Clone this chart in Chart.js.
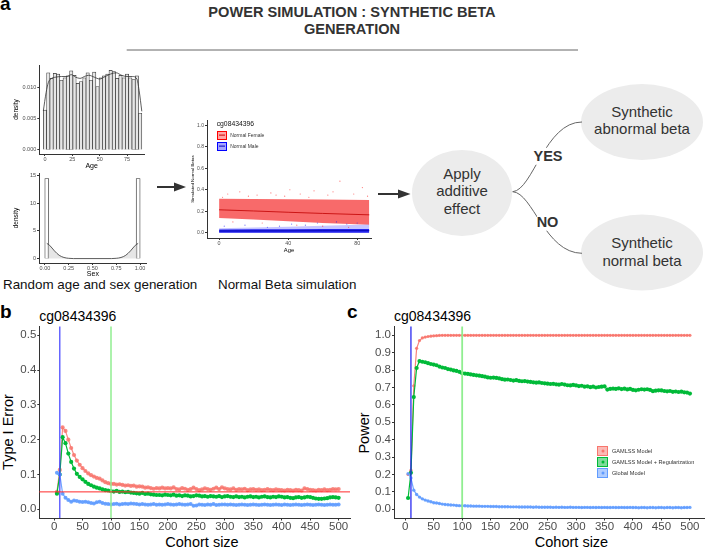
<!DOCTYPE html>
<html><head><meta charset="utf-8">
<script src="https://cdn.jsdelivr.net/npm/chart.js@4.4.1/dist/chart.umd.min.js"></script>
<style>
html,body{margin:0;padding:0;background:#fff;}
body{width:708px;height:548px;position:relative;overflow:hidden;font-family:"Liberation Sans",Arial,Helvetica,sans-serif;}
canvas{position:absolute;}
.t{position:absolute;white-space:nowrap;line-height:1;}
.c{transform:translate(-50%,-50%);}
.r{transform:translate(-50%,-50%) rotate(-90deg);}
.pl{position:absolute;font-weight:bold;font-size:19px;line-height:1;color:#000;}
.ell{position:absolute;text-align:center;font-size:15px;color:#333;}
.lg{position:absolute;display:flex;align-items:center;white-space:nowrap;color:#333;}
.sw{box-sizing:border-box;position:relative;display:inline-block;flex:none;}
.dot{position:absolute;left:50%;top:50%;border-radius:50%;transform:translate(-50%,-50%);}
.yn{position:absolute;font-weight:bold;font-size:14.5px;color:#333;background:#fff;line-height:1;padding:1px 0;transform:translate(-50%,-50%);}
</style></head><body>
<svg width="708" height="548" style="position:absolute;left:0;top:0">
  <line x1="126.7" y1="50" x2="578" y2="50" stroke="#666" stroke-width="1"/>
  <line x1="157" y1="187" x2="176" y2="187" stroke="#333" stroke-width="2"/>
  <polygon points="174,182.5 186,187 174,191.5" fill="#333"/>
  <line x1="378" y1="194" x2="400" y2="194" stroke="#333" stroke-width="2"/>
  <polygon points="398,189.5 410.5,194 398,198.5" fill="#333"/>
  <ellipse cx="462" cy="193" rx="50" ry="43" fill="#ececec"/>
  <ellipse cx="642" cy="122" rx="61" ry="38" fill="#ececec"/>
  <ellipse cx="642" cy="252.5" rx="61" ry="38" fill="#ececec"/>
  <path d="M512.7,191.7 C533,190 545,122 582,122" stroke="#666" stroke-width="1" fill="none"/>
  <path d="M512.7,191.7 C533,193 545,253 582,253.3" stroke="#666" stroke-width="1" fill="none"/>
</svg>

<div class="pl" style="left:0px;top:-6px">a</div>
<div class="pl" style="left:0px;top:302px">b</div>
<div class="pl" style="left:347px;top:302px">c</div>

<div class="t c" style="left:352px;top:12px;font-weight:bold;font-size:14.6px;color:#333">POWER SIMULATION : SYNTHETIC BETA</div>
<div class="t c" style="left:352px;top:28.5px;font-weight:bold;font-size:14.6px;color:#333">GENERATION</div>

<div class="t" style="left:3px;top:278px;font-size:13.4px;color:#111">Random age and sex generation</div>
<div class="t" style="left:218px;top:278px;font-size:13.4px;color:#111">Normal Beta simulation</div>

<div class="ell" style="left:412px;top:164.5px;width:100px;line-height:17.5px">Apply<br>additive<br>effect</div>
<div class="ell" style="left:581px;top:102.9px;width:122px;line-height:17.6px">Synthetic<br>abnormal beta</div>
<div class="ell" style="left:581px;top:233.7px;width:122px;line-height:18px">Synthetic<br>normal beta</div>
<div class="yn" style="left:548px;top:156px">YES</div>
<div class="yn" style="left:547.5px;top:222px">NO</div>

<div class="t" style="left:39.3px;top:309px;font-size:14px;color:#000">cg08434396</div>
<div class="t" style="left:394px;top:309px;font-size:14px;color:#000">cg08434396</div>
<div class="t c" style="left:202px;top:542px;font-size:14.5px;color:#000">Cohort size</div>
<div class="t c" style="left:571.5px;top:542px;font-size:14.5px;color:#000">Cohort size</div>
<div class="t r" style="left:7.5px;top:431.5px;font-size:14.5px;color:#000">Type I Error</div>
<div class="t r" style="left:364px;top:432.5px;font-size:14.5px;color:#000">Power</div>

<div id="host"></div>

<!-- legend panel c -->
<div class="lg" style="left:597px;top:445.5px;height:10px;font-size:5.6px"><span class="sw" style="width:11px;height:10px;background:rgba(248,118,109,0.5);border:0.8px solid #F8766D"><i class="dot" style="width:3px;height:3px;background:#F8766D"></i></span><span style="margin-left:4px">GAMLSS Model</span></div>
<div class="lg" style="left:597px;top:456.5px;height:10px;font-size:5.6px"><span class="sw" style="width:11px;height:10px;background:rgba(0,186,56,0.5);border:0.8px solid #00BA38"><i class="dot" style="width:3px;height:3px;background:#00BA38"></i></span><span style="margin-left:4px">GAMLSS Model + Regularization</span></div>
<div class="lg" style="left:597px;top:468px;height:10px;font-size:5.6px"><span class="sw" style="width:11px;height:10px;background:rgba(97,156,255,0.5);border:0.8px solid #619CFF"><i class="dot" style="width:3px;height:3px;background:#619CFF"></i></span><span style="margin-left:4px">Global Model</span></div>

<!-- legend scatter -->
<div class="t" style="left:216.7px;top:120.8px;font-size:6.8px;color:#111">cg08434396</div>
<div class="lg" style="left:217.3px;top:130.7px;height:9.3px;font-size:5px"><span class="sw" style="width:9.4px;height:9.3px;background:rgba(255,0,0,0.35);border:0.8px solid #ff0000"><i class="dot" style="width:6px;height:0.8px;border-radius:0;background:#d00000"></i></span><span style="margin-left:3.5px">Normal Female</span></div>
<div class="lg" style="left:217.3px;top:141.7px;height:9.3px;font-size:5px"><span class="sw" style="width:9.4px;height:9.3px;background:rgba(0,0,255,0.35);border:0.8px solid #0000ff"><i class="dot" style="width:6px;height:0.8px;border-radius:0;background:#0000c0"></i></span><span style="margin-left:3.5px">Normal Male</span></div>

<script>
// ---------- DATA ----------
const cohort = [5,10,15,20,25,30,35,40,45,50,55,60,65,70,75,80,85,90,95,100,
  105,110,115,120,125,130,135,140,145,150,155,160,165,170,175,180,185,190,195,200,
  205,210,215,220,225,230,235,240,245,250,255,260,265,270,275,280,285,290,295,300,
  305,310,315,320,325,330,335,340,345,350,355,360,365,370,375,380,385,390,395,400,
  405,410,415,420,425,430,435,440,445,450,455,460,465,470,475,480,485,490,495,500];

const typeIGamlss = [.050,.113,.235,.225,.200,.176,.156,.140,.128,.118,
  .110,.103,.098,.094,.090,.088,.083,.078,.075,.073,
  .073,.071,.072,.070,.068,.069,.067,.068,.065,.066,
  .065,.062,.063,.061,.059,.061,.060,.062,.060,.061,
  .060,.063,.058,.057,.061,.059,.056,.058,.062,.058,
  .055,.057,.060,.058,.056,.059,.062,.058,.063,.060,
  .058,.057,.060,.056,.058,.057,.059,.055,.057,.058,
  .056,.057,.055,.056,.058,.056,.055,.057,.056,.055,
  .054,.056,.055,.054,.056,.055,.054,.060,.058,.056,
  .055,.054,.056,.055,.057,.055,.056,.058,.057,.058];

const typeIGamlssReg = [.045,.100,.207,.190,.160,.136,.117,.102,.093,.086,
  .079,.073,.069,.065,.062,.060,.057,.055,.054,.052,
  .051,.053,.050,.051,.049,.050,.048,.047,.046,.045,
  .047,.044,.045,.043,.042,.041,.041,.040,.042,.041,
  .040,.042,.039,.040,.038,.040,.039,.037,.038,.040,
  .039,.037,.038,.036,.038,.037,.036,.038,.035,.037,
  .038,.036,.035,.037,.035,.036,.034,.036,.037,.035,
  .036,.034,.036,.037,.035,.034,.036,.035,.037,.036,
  .034,.035,.033,.032,.034,.035,.033,.034,.036,.035,
  .033,.031,.030,.030,.031,.032,.034,.035,.034,.033];

const typeIGlobal = [.105,.100,.045,.033,.027,.022,.025,.024,.022,.021,
  .022,.020,.018,.017,.020,.022,.018,.016,.015,.014,
  .015,.016,.014,.015,.016,.015,.017,.016,.015,.014,
  .015,.014,.013,.014,.015,.013,.014,.013,.014,.015,
  .014,.013,.014,.015,.014,.013,.014,.015,.010,.011,
  .014,.013,.012,.014,.013,.015,.012,.013,.014,.014,
  .013,.014,.013,.012,.013,.014,.013,.012,.013,.014,
  .013,.012,.013,.014,.013,.012,.013,.014,.013,.012,
  .014,.013,.012,.013,.014,.013,.012,.013,.014,.013,
  .012,.013,.014,.013,.012,.013,.014,.013,.013,.014];

const powerGamlss = [.200,.225,.710,.925,.970,.985,.990,.993,.995,.997,
  .998,.999,1,1,1,1,1,1,1,1,
  1,1,1,1,1,1,1,1,1,1, 1,1,1,1,1,1,1,1,1,1,
  1,1,1,1,1,1,1,1,1,1, 1,1,1,1,1,1,1,1,1,1,
  1,1,1,1,1,1,1,1,1,1, 1,1,1,1,1,1,1,1,1,1,
  1,1,1,1,1,1,1,1,1,1, 1,1,1,1,1,1,1,1,1,1];

const powerGamlssReg = [.065,.210,.645,.812,.852,.848,.845,.840,.835,.832,
  .828,.820,.815,.812,.806,.803,.798,.795,.790,.782,
  .780,.778,.775,.772,.770,.768,.765,.762,.758,.756,
  .757,.755,.752,.748,.745,.746,.743,.740,.742,.738,
  .736,.737,.734,.732,.730,.728,.729,.726,.724,.722,
  .720,.721,.718,.716,.720,.717,.713,.712,.715,.712,
  .708,.710,.705,.707,.702,.705,.700,.703,.705,.707,
  .688,.692,.694,.692,.695,.691,.693,.689,.692,.686,
  .684,.687,.690,.688,.690,.686,.679,.682,.684,.683,
  .680,.678,.680,.675,.677,.674,.676,.672,.671,.665];

const powerGlobal = [.205,.180,.110,.085,.070,.060,.053,.048,.043,.038,
  .036,.033,.030,.028,.026,.025,.024,.022,.021,.020,
  .020,.019,.019,.018,.018,.018,.017,.017,.017,.016,
  .016,.016,.015,.015,.015,.015,.014,.014,.014,.013,
  .013,.013,.013,.013,.012,.013,.012,.012,.012,.012,
  .012,.011,.012,.011,.012,.011,.011,.012,.011,.011,
  .011,.010,.011,.011,.010,.011,.010,.011,.010,.011,
  .010,.010,.011,.010,.010,.011,.010,.010,.011,.010,
  .010,.009,.010,.010,.009,.010,.010,.009,.010,.010,
  .009,.010,.010,.009,.010,.010,.009,.010,.010,.011];

const cohortTicks = [0,50,100,150,200,250,300,350,400,450,500];
const typeITicks = [0,0.1,0.2,0.3,0.4,0.5];
const powerTicks = [0,0.1,0.2,0.3,0.4,0.5,0.6,0.7,0.8,0.9,1.0];
const alphaLevel = 0.05;
const smallCohortLine = 10;
const largeCohortLine = 100;

// panel a : age histogram (bin centres, density) and density curve
const ageBins = [0,3,6,9,12,15,18,21,24,27,30,33,36,39,42,45,48,51,54,57,60,63,66,69,72,75,78,81,84,87];
const ageDensity = [.0064,.0124,.0115,.0123,.0122,.0112,.0116,.0119,.0127,.0120,.0107,.0110,.0116,.0124,.0112,.0125,.0102,.0116,.0119,.0122,.0128,.0126,.0115,.0120,.0116,.0122,.0116,.0113,.0119,.0059];
const ageCurveX = [-1.5,1,3,6,10,15,20,24,28,32,36,40,45,50,55,60,65,70,75,80,84,86,88.5];
const ageCurveY = [.0063,.0092,.0108,.0115,.0117,.0118,.0118,.0121,.0117,.0115,.0118,.0120,.0117,.0114,.0118,.0122,.0124,.0120,.0118,.0118,.0114,.0096,.0062];
const ageTicks = [0,25,50,75];
const ageDensTicks = [0,0.005,0.010];
// sex histogram and density
const sexBins = [0.02,0.98];
const sexDensity = [14.5,14.5];
const sexCurveX = [0.02,0.05,0.10,0.15,0.20,0.25,0.30,0.70,0.75,0.80,0.85,0.90,0.95,0.98];
const sexCurveY = [2.75,2.4,1.4,0.6,0.2,0.05,0,0,0.05,0.2,0.6,1.4,2.4,2.75];
const sexTicks = [0,0.25,0.5,0.75,1];
const sexDensTicks = [0,5,10,15];
// simulated normal beta
const ageGrid = [0,20,40,60,87];
const femaleUpper = [.315,.313,.311,.308,.305];
const femaleLower = [.136,.122,.105,.090,.074];
const femaleMean = [.213,.202,.190,.179,.166];
const maleUpper = [.040,.048,.056,.064,.075];
const maleDense = [.030,.031,.032,.033,.034];
const maleMean = [.015,.016,.017,.018,.019];
const femaleOutAge = [5,12,22,30,38,47,55,63,70,78,83,8,25,45,60,75,17,52,66,2,33,41,86];
const femaleOutBeta = [.36,.38,.35,.37,.34,.36,.39,.35,.48,.36,.42,.10,.09,.07,.06,.05,.34,.33,.38,.33,.35,.40,.34];
const maleOutAge = [3,15,28,42,57,68,80,35,50,74];
const maleOutBeta = [.06,.07,.05,.08,.09,.10,.09,.06,.07,.08];
const betaAgeTicks = [0,40,80];
const betaTicks = [0,0.2,0.4,0.6,0.8,1.0];

// ---------- helpers ----------
const FONT = '"Liberation Sans", Arial, sans-serif';
Chart.defaults.font.family = FONT;
const pts = (xs, ys) => xs.map((x, i) => ({x, y: ys[i]}));
function mk(left, top, w, h) {
  const c = document.createElement('canvas');
  c.width = w; c.height = h;
  c.style.left = left + 'px'; c.style.top = top + 'px';
  c.style.width = w + 'px'; c.style.height = h + 'px';
  document.getElementById('host').appendChild(c);
  return c;
}
function axis(o) {
  return {
    type: 'linear', min: o.min, max: o.max, offset: false,
    afterBuildTicks: s => { s.ticks = o.ticks.map(v => ({value: v})); },
    afterFit: s => { if (s.isHorizontal()) s.height = o.size; else s.width = o.size; },
    border: {display: true, color: '#333', width: o.bw || 1},
    grid: {display: true, drawOnChartArea: false, drawTicks: true, tickLength: o.tl ?? 2, color: '#333', lineWidth: o.bw || 1, offset: false},
    ticks: {color: '#4d4d4d', font: {size: o.fs, lineHeight: 1}, padding: o.pad ?? 1, maxRotation: 0, autoSkip: false,
      callback: v => o.fmt ? o.fmt(v) : String(v)},
    title: {display: !!o.title, text: o.title || '', color: '#000', font: {size: o.ts || 7}, padding: 0}
  };
}
function baseOpts(pad, x, y) {
  return {responsive: false, animation: false, devicePixelRatio: 1, events: [],
    layout: {padding: pad},
    plugins: {legend: {display: false}, tooltip: {enabled: false}, title: {display: false}},
    scales: {x, y}};
}
const vline = (x, color, w) => ({type: 'line', data: [{x, y: -10}, {x, y: 10}], borderColor: color, borderWidth: w, pointRadius: 0});
const hline = (y, color, w) => ({type: 'line', data: [{x: -1000, y}, {x: 1000, y}], borderColor: color, borderWidth: w, pointRadius: 0});
const series = (ys, color, r, bw) => ({type: 'line', data: pts(cohort, ys), borderColor: color, backgroundColor: color,
  borderWidth: bw, pointRadius: r, pointBorderWidth: 0, tension: 0});

const RED = '#F8766D', GREEN = '#00BA38', BLUE = '#619CFF';

// ---------- panel b ----------
new Chart(mk(0, 295, 354, 253), {
  type: 'line',
  data: {datasets: [
    hline(alphaLevel, '#ff2a2a', 1),
    vline(smallCohortLine, 'rgba(60,60,255,0.9)', 1.3),
    vline(largeCohortLine, '#90EE90', 1.5),
    series(typeIGlobal, 'rgba(97,156,255,0.9)', 2, 1.2),
    series(typeIGamlssReg, GREEN, 2.1, 1.2),
    series(typeIGamlss, 'rgba(248,118,109,0.85)', 2.1, 1.2)
  ]},
  options: baseOpts({left: 0, top: 31.5, right: 1, bottom: 0},
    axis({min: -26, max: 520, ticks: cohortTicks, size: 30, fs: 11.5, tl: 2.5, pad: 1}),
    axis({min: -0.025, max: 0.525, ticks: typeITicks, size: 39.3, fs: 11.5, tl: 2, pad: 1, fmt: v => v.toFixed(1)}))
});

// ---------- panel c ----------
new Chart(mk(354, 295, 354, 253), {
  type: 'line',
  data: {datasets: [
    vline(smallCohortLine, 'rgba(30,30,240,0.95)', 1.3),
    vline(largeCohortLine, '#90EE90', 1.8),
    series(powerGlobal, 'rgba(97,156,255,0.9)', 1.7, 1.2),
    series(powerGamlssReg, GREEN, 2.1, 1.2),
    series(powerGamlss, 'rgba(248,118,109,0.9)', 1.6, 1.2)
  ]},
  options: baseOpts({left: 0, top: 31.6, right: 0, bottom: 0},
    axis({min: -19.75, max: 524.75, ticks: cohortTicks, size: 30, fs: 11.5, tl: 2.5, pad: 1}),
    axis({min: -0.05, max: 1.05, ticks: powerTicks, size: 40, fs: 11.5, tl: 2, pad: 1, fmt: v => v.toFixed(1)}))
});

// ---------- panel a : age histogram ----------
new Chart(mk(12, 60, 140, 110), {
  type: 'bar',
  data: {datasets: [
    {type: 'line', data: pts(ageCurveX, ageCurveY), borderColor: '#333', borderWidth: 0.8, pointRadius: 0, tension: 0.4, cubicInterpolationMode: 'monotone'},
    {type: 'bar', data: pts(ageBins, ageDensity), backgroundColor: '#e6e6e6', borderColor: '#333', borderWidth: 0.7, barPercentage: 1, categoryPercentage: 1}
  ]},
  options: baseOpts({left: 0, top: 5, right: 8, bottom: 0},
    axis({min: -5.2, max: 90.5, ticks: ageTicks, size: 16, fs: 5.5, tl: 2, pad: 0.5, title: 'Age', ts: 7}),
    axis({min: -0.00065, max: 0.01365, ticks: ageDensTicks, size: 27.3, fs: 5.5, tl: 2, pad: 1, fmt: v => v.toFixed(3), title: 'density', ts: 6.5}))
});

// ---------- panel a : sex histogram ----------
new Chart(mk(12, 168, 140, 110), {
  type: 'bar',
  data: {datasets: [
    {type: 'line', data: pts(sexCurveX, sexCurveY), borderColor: '#333', borderWidth: 0.8, pointRadius: 0, tension: 0.4, cubicInterpolationMode: 'monotone', fill: 'origin', backgroundColor: 'rgba(200,200,200,0.45)'},
    {type: 'bar', data: pts(sexBins, sexDensity), backgroundColor: '#ffffff', borderColor: '#333', borderWidth: 0.8, barThickness: 4}
  ]},
  options: baseOpts({left: 0, top: 5, right: 5.3, bottom: 0},
    axis({min: -0.062, max: 1.07, ticks: sexTicks, size: 15, fs: 5.5, tl: 2, pad: 0.3, fmt: v => v.toFixed(2), title: 'Sex', ts: 7}),
    axis({min: -0.8, max: 15.5, ticks: sexDensTicks, size: 27, fs: 5.5, tl: 2, pad: 1, title: 'density', ts: 6.5}))
});

// ---------- panel a : simulated normal betas ----------
new Chart(mk(190, 112, 185, 142), {
  type: 'line',
  data: {datasets: [
    {data: pts(ageGrid, femaleMean), borderColor: '#c00000', borderWidth: 0.8, pointRadius: 0},
    {data: pts(ageGrid, maleMean), borderColor: '#0000b0', borderWidth: 0.8, pointRadius: 0},
    {type: 'scatter', data: pts(femaleOutAge, femaleOutBeta), backgroundColor: 'rgba(255,0,0,0.55)', pointRadius: 0.6, pointBorderWidth: 0},
    {type: 'scatter', data: pts(maleOutAge, maleOutBeta), backgroundColor: 'rgba(0,0,255,0.55)', pointRadius: 0.6, pointBorderWidth: 0},
    {data: pts(ageGrid, maleDense), borderWidth: 0, pointRadius: 0, fill: 'origin', backgroundColor: 'rgba(10,10,235,0.85)'},
    {data: pts(ageGrid, maleUpper), borderWidth: 0, pointRadius: 0, fill: 'origin', backgroundColor: 'rgba(90,90,255,0.35)'},
    {data: pts(ageGrid, femaleUpper), borderWidth: 0, pointRadius: 0, fill: '+1', backgroundColor: 'rgba(245,35,35,0.68)'},
    {data: pts(ageGrid, femaleLower), borderWidth: 0, pointRadius: 0}
  ]},
  options: baseOpts({left: 0, top: 8, right: 4, bottom: 0},
    axis({min: -7, max: 88, ticks: betaAgeTicks, size: 16, fs: 5.4, tl: 2, pad: 1, title: 'Age', ts: 5.8}),
    axis({min: -0.05, max: 1.05, ticks: betaTicks, size: 17, fs: 5, tl: 2, pad: 1, fmt: v => v.toFixed(1), title: 'Simulated Normal Betas', ts: 4.4}))
});
</script>
</body></html>
